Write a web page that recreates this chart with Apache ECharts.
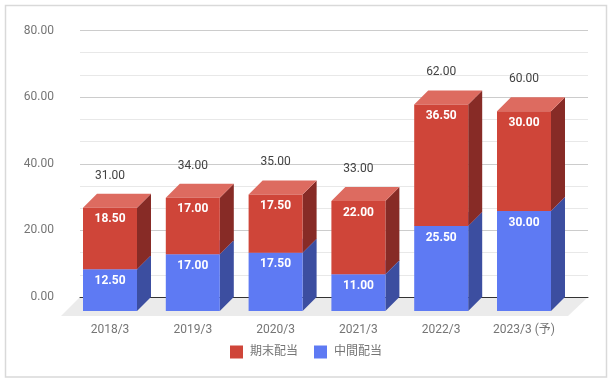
<!DOCTYPE html>
<html>
<head>
<meta charset="utf-8">
<title>配当</title>
<style>
html,body{margin:0;padding:0;background:#fff;}
#chart{width:613px;height:382px;}
</style>
<script src="https://cdn.jsdelivr.net/npm/echarts@6/dist/echarts.min.js"></script>
</head>
<body>
<div id="chart"></div>
<script>
var categories = ["2018/3","2019/3","2020/3","2021/3","2022/3","2023/3 (予)"];
var midDividend = [12.5,17,17.5,11,25.5,30];
var endDividend = [18.5,17,17.5,22,36.5,30];
var totals = [31,34,35,33,62,60];

var FONT = 'Roboto, "Noto Sans CJK JP", sans-serif';
//奥行き(px)
var DEPTH = 14;
var BAR_W = 54;

function money(v){
	return v.toFixed(2);
}

//立体の棒 front:正面 side:側面 top:上面
function barItem(front,side,top,showTotal){
	return function(params,api){
		var i = api.value(0);
		var lo = api.coord([i,api.value(1)]);
		var hi = api.coord([i,api.value(2)]);
		var l = lo[0]-BAR_W/2, r = lo[0]+BAR_W/2;
		var children = [
			{type:'polygon',shape:{points:[[r,lo[1]],[r+DEPTH,lo[1]-DEPTH],[r+DEPTH,hi[1]-DEPTH],[r,hi[1]]]},style:{fill:side}},
			{type:'polygon',shape:{points:[[l,hi[1]],[r,hi[1]],[r+DEPTH,hi[1]-DEPTH],[l+DEPTH,hi[1]-DEPTH]]},style:{fill:top}},
			{type:'rect',shape:{x:l,y:hi[1],width:BAR_W,height:lo[1]-hi[1]},style:{fill:front}},
			{type:'text',style:{text:money(api.value(2)-api.value(1)),x:lo[0],y:hi[1]+11.5,align:'center',verticalAlign:'middle',
				fill:'#fff',font:'bold 12px '+FONT}}
		];
		if(showTotal){
			children.push({type:'text',style:{text:money(totals[i]),x:lo[0],y:hi[1]-32,align:'center',verticalAlign:'middle',
				fill:'#424242',font:'12px '+FONT}});
		}
		return {type:'group',children:children};
	};
}

var midData = [], endData = [];
for(var i=0;i<categories.length;i++){
	midData.push([i,0,midDividend[i]]);
	endData.push([i,midDividend[i],midDividend[i]+endDividend[i]]);
}

var myChart = echarts.init(document.getElementById('chart'),null,{renderer:'canvas'});
var option = {
	animation:false,
	backgroundColor:'#fff',
	textStyle:{fontFamily:FONT},
	color:['#cf4539','#5e7af3'],
	graphic:[{type:'rect',z:-1,shape:{x:5.5,y:5.5,width:601,height:371.5},style:{fill:'#fff',stroke:'#d9d9d9',lineWidth:1.5}}],
	legend:{
		data:['期末配当','中間配当'],
		left:230,top:345.5,padding:0,
		itemWidth:13,itemHeight:13,itemGap:16,icon:'rect',
		textStyle:{color:'#757575',fontSize:12,fontFamily:FONT,padding:[2,0,0,2]}
	},
	//0:目盛と床 1:棒の正面(床の手前)
	grid:[
		{left:80,right:25,top:30.5,bottom:85},
		{left:68.6,width:496.8,top:44.5,bottom:71}
	],
	xAxis:[
		{gridIndex:0,type:'category',data:categories,z:2,axisLabel:{show:false},axisTick:{show:false},
			axisLine:{show:true,onZero:false,lineStyle:{color:'#333',width:1}}},
		{gridIndex:1,type:'category',data:categories,axisTick:{show:false},axisLine:{show:false},
			axisLabel:{color:'#757575',fontSize:12,margin:12.5,fontFamily:FONT,interval:0}}
	],
	yAxis:[
		{gridIndex:0,type:'value',min:0,max:80,interval:20,
			axisLabel:{color:'#757575',fontSize:12,margin:26,padding:[3,0,0,0],fontFamily:FONT,formatter:function(v){return money(v);}},
			axisLine:{show:false},axisTick:{show:false},
			splitLine:{lineStyle:{color:'#cccccc',width:1}},
			minorTick:{show:false,splitNumber:3},
			minorSplitLine:{show:true,lineStyle:{color:'#e8e8e8',width:1}}},
		{gridIndex:1,type:'value',min:0,max:80,interval:20,show:false}
	],
	series:[
		{
			name:'床',type:'custom',xAxisIndex:0,yAxisIndex:0,z:1,silent:true,
			data:[[0,0]],
			renderItem:function(params,api){
				var c = params.coordSys, b = c.y+c.height;
				return {type:'polygon',shape:{points:[[c.x,b],[c.x+c.width,b],[c.x+c.width-20,b+19],[c.x-19,b+19]]},style:{fill:'#ebebeb'}};
			}
		},
		{name:'中間配当',type:'custom',xAxisIndex:1,yAxisIndex:1,z:3,data:midData,encode:{x:0,y:2},
			itemStyle:{color:'#5e7af3'},renderItem:barItem('#5e7af3','#3c4ea0','#7e95f5',false)},
		{name:'期末配当',type:'custom',xAxisIndex:1,yAxisIndex:1,z:4,data:endData,encode:{x:0,y:2},
			itemStyle:{color:'#cf4539'},renderItem:barItem('#cf4539','#872b26','#dd6b60',true)}
	]
};
myChart.setOption(option);
</script>
</body>
</html>
